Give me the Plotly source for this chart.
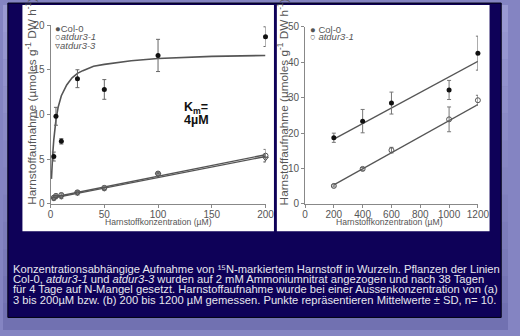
import plotly.graph_objects as go

# ---------------- data ----------------
# panel (a): 3-200 uM
a_x = [3, 5, 10, 25, 50, 100, 200]
a_col0 = [5.3, 9.8, 7.0, 14.0, 12.8, 16.6, 18.7]
a_col0_err = [0.5, 1.0, 0.3, 1.0, 1.1, 1.8, 1.1]
a_dur1 = [0.7, 0.9, 1.0, 1.3, 1.8, 3.4, 5.4]
a_dur1_err = [0.2, 0.2, 0.2, 0.2, 0.2, 0.2, 0.7]
a_dur3 = [0.6, 0.8, 0.8, 1.2, 1.7, 3.3, 5.1]
a_dur3_err = [0.2, 0.2, 0.2, 0.2, 0.2, 0.2, 0.4]
# fitted curves
a_fit_x = [0.8, 1, 2, 3, 5, 7, 10, 15, 20, 25, 30, 40, 50, 75, 100, 150, 200]
a_fit_col0 = [2.8, 3.4, 5.6, 7.2, 9.4, 10.8, 12.1, 13.3, 14.1, 14.6, 14.9, 15.4, 15.6, 16.0, 16.25, 16.5, 16.6]
a_lin_x = [0, 200]
a_lin_dur1 = [0.7, 5.5]
a_lin_dur3 = [0.6, 5.3]

# panel (b): 200-1200 uM
b_x = [200, 400, 600, 1000, 1200]
b_col0 = [18.7, 23.4, 28.5, 32.2, 42.6]
b_col0_err = [1.3, 3.3, 3.1, 2.7, 4.8]
b_dur1 = [5.1, 9.9, 15.2, 23.9, 29.3]
b_dur1_err = [0.3, 0.4, 0.8, 3.5, 1.4]
b_lin_x = [200, 1200]
b_lin_col0 = [18.3, 40.3]
b_lin_dur1 = [5.4, 28.1]

a_xticks = [0, 50, 100, 150, 200]
a_yticks = [0, 5, 10, 15, 20]
b_xticks = [0, 200, 400, 600, 800, 1000, 1200]
b_yticks = [0, 10, 20, 30, 40, 50]

caption = [
    "Konzentrationsabhängige Aufnahme von ¹⁵N-markiertem Harnstoff in Wurzeln. Pflanzen der Linien",
    "Col-0, <i>atdur3-1</i> und <i>atdur3-3</i> wurden auf 2 mM Ammoniumnitrat angezogen und nach 38 Tagen",
    "für 4 Tage auf N-Mangel gesetzt. Harnstoffaufnahme wurde bei einer Aussenkonzentration von (a)",
    "3 bis 200µM bzw. (b) 200 bis 1200 µM gemessen. Punkte repräsentieren Mittelwerte ± SD, n= 10.",
]

W, H = 520, 336
def px(x):
    return x / W
def py(y):
    return 1 - y / H

LINE = "#555555"
AX = "#888888"
TXT = "#555555"
FONT = "Liberation Sans, Arial, sans-serif"

fig = go.Figure()

def err(vals, color):
    return dict(type="data", array=vals, visible=True, color=color, thickness=1, width=2)

# panel a traces
fig.add_trace(go.Scatter(x=a_fit_x, y=a_fit_col0, mode="lines", line=dict(color=LINE, width=1.6),
                         xaxis="x", yaxis="y", showlegend=False, cliponaxis=False))
fig.add_trace(go.Scatter(x=a_lin_x, y=a_lin_dur1, mode="lines", line=dict(color=LINE, width=1.4),
                         xaxis="x", yaxis="y", showlegend=False, cliponaxis=False))
fig.add_trace(go.Scatter(x=a_lin_x, y=a_lin_dur3, mode="lines", line=dict(color=LINE, width=1.4),
                         xaxis="x", yaxis="y", showlegend=False, cliponaxis=False))
fig.add_trace(go.Scatter(x=a_x, y=a_col0, mode="markers", error_y=err(a_col0_err, "#666"),
                         marker=dict(symbol="circle", size=5, color="#111"),
                         xaxis="x", yaxis="y", showlegend=False, cliponaxis=False))
fig.add_trace(go.Scatter(x=a_x, y=a_dur1, mode="markers", error_y=err(a_dur1_err, "#777"),
                         marker=dict(symbol="circle-open", size=5, color="#555", line=dict(width=1)),
                         xaxis="x", yaxis="y", showlegend=False, cliponaxis=False))
fig.add_trace(go.Scatter(x=a_x, y=a_dur3, mode="markers", error_y=err(a_dur3_err, "#777"),
                         marker=dict(symbol="triangle-down-open", size=5, color="#555", line=dict(width=1)),
                         xaxis="x", yaxis="y", showlegend=False, cliponaxis=False))

# panel b traces
fig.add_trace(go.Scatter(x=b_lin_x, y=b_lin_col0, mode="lines", line=dict(color=LINE, width=1.3),
                         xaxis="x2", yaxis="y2", showlegend=False, cliponaxis=False))
fig.add_trace(go.Scatter(x=b_lin_x, y=b_lin_dur1, mode="lines", line=dict(color=LINE, width=1.3),
                         xaxis="x2", yaxis="y2", showlegend=False, cliponaxis=False))
fig.add_trace(go.Scatter(x=b_x, y=b_col0, mode="markers", error_y=err(b_col0_err, "#777"),
                         marker=dict(symbol="circle", size=5, color="#111"),
                         xaxis="x2", yaxis="y2", showlegend=False, cliponaxis=False))
fig.add_trace(go.Scatter(x=b_x, y=b_dur1, mode="markers", error_y=err(b_dur1_err, "#777"),
                         marker=dict(symbol="circle-open", size=5, color="#555", line=dict(width=1)),
                         xaxis="x2", yaxis="y2", showlegend=False, cliponaxis=False))

axis_common = dict(showline=True, linecolor=AX, linewidth=1, ticks="outside", ticklen=3,
                   tickcolor=AX, showgrid=False, zeroline=False,
                   tickfont=dict(family=FONT, size=10, color=TXT), fixedrange=True)

fig.update_layout(
    width=W, height=H, margin=dict(l=0, r=0, t=0, b=0),
    paper_bgcolor="#8484c2", plot_bgcolor="rgba(0,0,0,0)",
    showlegend=False,
    xaxis=dict(domain=[px(49), px(270.3)], range=[0, 200], tickvals=a_xticks, anchor="y",
               ticklabelstandoff=-2, **axis_common),
    yaxis=dict(domain=[py(205.7), py(20.7)], range=[0, 20], tickvals=a_yticks, anchor="x", **axis_common),
    xaxis2=dict(domain=[px(311), px(489)], range=[0, 1200], tickvals=b_xticks, anchor="y2",
                ticklabelstandoff=-2, **axis_common),
    yaxis2=dict(domain=[py(205.7), py(22.7)], range=[0, 50], tickvals=b_yticks, anchor="x2", **axis_common),
)

shapes = []
# gradient background bands
top_c = (156, 156, 212)
bot_c = (112, 112, 176)
n = 12
for i in range(n):
    t = (i + 0.5) / n
    c = tuple(int(top_c[k] + (bot_c[k] - top_c[k]) * t) for k in range(3))
    shapes.append(dict(type="rect", xref="paper", yref="paper", x0=0, x1=1,
                       y0=py(H * (i + 1) / n), y1=py(H * i / n),
                       fillcolor="rgb(%d,%d,%d)" % c, line=dict(width=0), layer="below"))
shapes.append(dict(type="rect", xref="paper", yref="paper", x0=px(5), x1=px(513), y0=py(323), y1=py(-2),
                   fillcolor="#0e0158", line=dict(color="#000010", width=1), layer="below"))
shapes.append(dict(type="rect", xref="paper", yref="paper", x0=px(20), x1=px(279), y0=py(234), y1=py(0),
                   fillcolor="white", line=dict(width=0), layer="below"))
shapes.append(dict(type="rect", xref="paper", yref="paper", x0=px(282), x1=px(501), y0=py(234), y1=py(0),
                   fillcolor="white", line=dict(width=0), layer="below"))
fig.update_layout(shapes=shapes)

ann = []
def A(text, x, y, size, color=TXT, xanchor="center", angle=0, yanchor="middle"):
    ann.append(dict(text=text, xref="paper", yref="paper", x=px(x), y=py(y), showarrow=False,
                    xanchor=xanchor, yanchor=yanchor, textangle=angle, borderpad=0,
                    font=dict(family=FONT, size=size, color=color)))

ytitle = "Harnstoffaufnahme (µmoles g<sup>-1</sup> DW h<sup>-1</sup>)"
A(ytitle, 30, 100, 11.8, angle=-90)
A(ytitle, 289, 100, 11.8, angle=-90)
A("Harnstoffkonzentration (µM)", 160, 224, 8.6)
A("Harnstoffkonzentration (µM)", 398, 224, 8.6)

# legends
A("●Col-0", 53, 24, 9.5, xanchor="left")
A("○<i>atdur3-1</i>", 53, 33, 9.5, xanchor="left")
A("▿<i>atdur3-3</i>", 53, 42, 9.5, xanchor="left")
A("● Col-0", 315, 25, 9.5, xanchor="left")
A("○ <i>atdur3-1</i>", 315, 33, 9.5, xanchor="left")

# Km
A("<b>K<sub>m</sub>=</b>", 185, 106, 12.5, color="#111", xanchor="left")
A("<b>4µM</b>", 185, 119, 12.5, color="#111", xanchor="left")

# caption
cap_y = [273, 283.5, 294, 304.5]
for line, y in zip(caption, cap_y):
    A(line, 9, y, 11.2, color="#e6e6ee", xanchor="left")

fig.update_layout(annotations=ann)
fig.write_html("out.html")
